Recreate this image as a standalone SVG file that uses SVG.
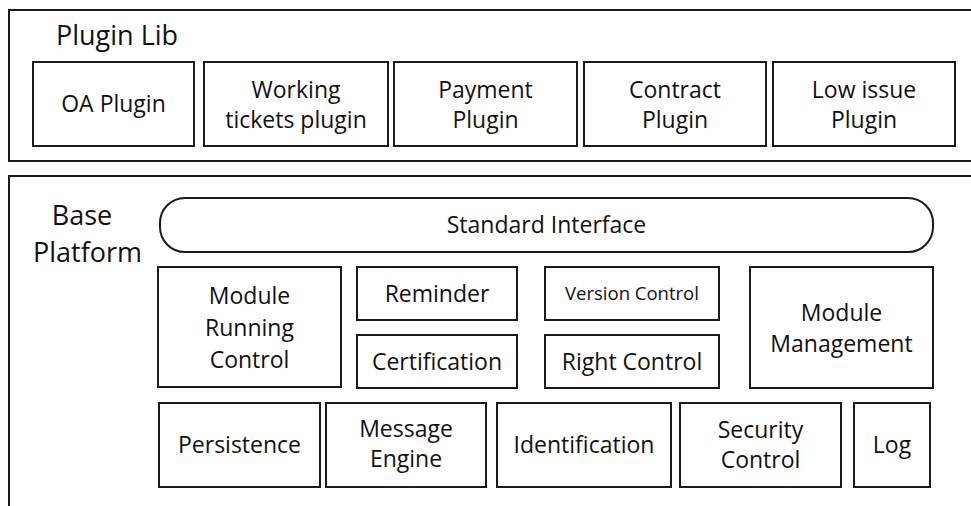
<svg xmlns="http://www.w3.org/2000/svg" width="971" height="506" viewBox="0 0 971 506">
  <style>
    .frame { fill: #ffffff; stroke: #1a1a1a; stroke-width: 2; }
    .box { fill: #ffffff; stroke: #1a1a1a; stroke-width: 2; }
    .lbl { font-family: "Open Sans", "Liberation Sans", sans-serif; font-size: 23px; fill: #111111; text-anchor: middle; }
    .small { font-size: 18.5px; }
    .head { font-family: "Open Sans", "Liberation Sans", sans-serif; font-size: 27px; fill: #111111; }
  </style>
  <rect width="971" height="506" fill="#ffffff"/>

  <!-- Plugin library layer -->
  <g id="plugin-lib">
    <rect class="frame" x="9" y="10" width="980" height="151"/>
    <text class="head" x="56" y="45">Plugin Lib</text>
  </g>
  <g id="oa-plugin">
    <rect class="box" x="33" y="62" width="161" height="84"/>
    <text class="lbl" x="113.5" y="112">OA Plugin</text>
  </g>
  <g id="working-tickets-plugin">
    <rect class="box" x="204" y="62" width="184" height="84"/>
    <text class="lbl" x="296" y="98">Working</text>
    <text class="lbl" x="296" y="128">tickets plugin</text>
  </g>
  <g id="payment-plugin">
    <rect class="box" x="394" y="62" width="183" height="84"/>
    <text class="lbl" x="485.5" y="98">Payment</text>
    <text class="lbl" x="485.5" y="128">Plugin</text>
  </g>
  <g id="contract-plugin">
    <rect class="box" x="584" y="62" width="182" height="84"/>
    <text class="lbl" x="675" y="98">Contract</text>
    <text class="lbl" x="675" y="128">Plugin</text>
  </g>
  <g id="low-issue-plugin">
    <rect class="box" x="773" y="62" width="182" height="84"/>
    <text class="lbl" x="864" y="98">Low issue</text>
    <text class="lbl" x="864" y="128">Plugin</text>
  </g>

  <!-- Base platform layer -->
  <g id="base-platform">
    <rect class="frame" x="9" y="176" width="980" height="340"/>
    <text class="head" x="82" y="225" text-anchor="middle">Base</text>
    <text class="head" x="87.5" y="262" text-anchor="middle">Platform</text>
  </g>
  <g id="standard-interface">
    <rect class="box" x="160" y="198" width="773" height="54" rx="25" ry="25"/>
    <text class="lbl" x="546.5" y="233">Standard Interface</text>
  </g>
  <g id="module-running-control">
    <rect class="box" x="158" y="267" width="183" height="120"/>
    <text class="lbl" x="249.5" y="304">Module</text>
    <text class="lbl" x="249.5" y="336">Running</text>
    <text class="lbl" x="249.5" y="368">Control</text>
  </g>
  <g id="reminder">
    <rect class="box" x="357" y="267" width="160" height="53"/>
    <text class="lbl" x="437" y="302">Reminder</text>
  </g>
  <g id="certification">
    <rect class="box" x="357" y="335" width="160" height="53"/>
    <text class="lbl" x="437" y="370">Certification</text>
  </g>
  <g id="version-control">
    <rect class="box" x="545" y="267" width="174" height="53"/>
    <text class="lbl small" x="632" y="300">Version Control</text>
  </g>
  <g id="right-control">
    <rect class="box" x="545" y="335" width="174" height="53"/>
    <text class="lbl" x="632" y="370">Right Control</text>
  </g>
  <g id="module-management">
    <rect class="box" x="750" y="267" width="183" height="121"/>
    <text class="lbl" x="841.5" y="321">Module</text>
    <text class="lbl" x="841.5" y="352">Management</text>
  </g>
  <g id="persistence">
    <rect class="box" x="159" y="403" width="161" height="84"/>
    <text class="lbl" x="239.5" y="453">Persistence</text>
  </g>
  <g id="message-engine">
    <rect class="box" x="326" y="403" width="160" height="84"/>
    <text class="lbl" x="406" y="437">Message</text>
    <text class="lbl" x="406" y="467">Engine</text>
  </g>
  <g id="identification">
    <rect class="box" x="497" y="403" width="174" height="84"/>
    <text class="lbl" x="584" y="453">Identification</text>
  </g>
  <g id="security-control">
    <rect class="box" x="680" y="403" width="161" height="84"/>
    <text class="lbl" x="760.5" y="438">Security</text>
    <text class="lbl" x="760.5" y="468">Control</text>
  </g>
  <g id="log">
    <rect class="box" x="854" y="403" width="76" height="84"/>
    <text class="lbl" x="892" y="453">Log</text>
  </g>

  <!-- no connectors in this layered view -->
  <g id="connectors"/>
</svg>
